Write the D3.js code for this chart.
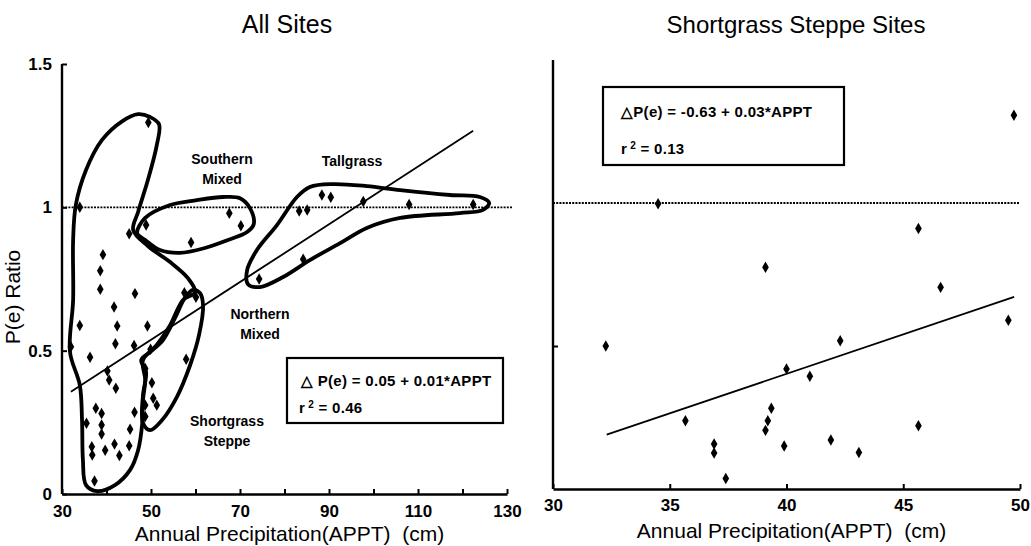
<!DOCTYPE html>
<html lang="en">

<head>
    <meta charset="UTF-8">
    <title>P(e) Ratio vs Annual Precipitation</title>
    <style>
        body { margin: 0; background: #fff; }
        text { font-family: "Liberation Sans", Arial, sans-serif; fill: #000; white-space: pre; }
        .tick text { font-size: 17px; font-weight: bold; }
        .lbl { font-size: 14px; font-weight: bold; }
        .eq { font-size: 15px; font-weight: bold; letter-spacing: 0.3px; }
    </style>
</head>

<body>
    <div id="target"></div>

    <script src="https://d3js.org/d3.v7.min.js"></script>
    <script>
        // All Sites panel (APPT cm, P(e) ratio)
        const allX = [49.4, 67.6, 48.9, 45.1, 59.0, 39.2, 38.6, 38.6, 46.4, 57.5, 60.1, 41.7, 34.0, 42.4, 49.2,
            42.0, 32.0, 46.2, 49.9, 36.3, 57.9, 48.7, 40.2, 40.6, 50.2, 42.1, 50.5, 51.3, 37.6, 48.7,
            38.9, 46.3, 48.7, 35.5, 38.9, 45.3, 38.9, 36.7, 41.8, 45.1, 39.7, 36.8, 42.9, 37.3, 34.0,
            70.2, 88.4, 90.4, 83.3, 85.1, 97.7, 108.0, 122.4, 84.2, 74.3];
        const allY = [1.296, 0.979, 0.938, 0.908, 0.877, 0.835, 0.779, 0.714, 0.699, 0.702, 0.686, 0.652, 0.588, 0.586, 0.586,
            0.524, 0.514, 0.518, 0.505, 0.477, 0.470, 0.438, 0.429, 0.398, 0.388, 0.369, 0.334, 0.310, 0.299, 0.310,
            0.281, 0.285, 0.270, 0.247, 0.241, 0.226, 0.209, 0.165, 0.174, 0.168, 0.153, 0.136, 0.134, 0.045, 1.0,
            0.936, 1.043, 1.035, 0.987, 0.991, 1.02, 1.01, 1.01, 0.819, 0.75];
        const allFitX = [32.0, 122.4];
        const allFitY = [0.357, 1.267];

        // Shortgrass Steppe panel
        const sgsX = [32.26, 39.1, 46.6, 49.5, 42.3, 40.0, 41.0, 39.35, 39.2, 39.1, 35.67, 36.9, 36.9, 37.4,
            39.9, 41.9, 43.1, 45.65, 49.74, 45.65, 34.5];
        const sgsY = [0.50, 0.775, 0.705, 0.59, 0.518, 0.42, 0.394, 0.282, 0.239, 0.205, 0.239, 0.157, 0.126, 0.037,
            0.15, 0.171, 0.128, 0.221, 1.307, 0.911, 0.997];
        const sgsFitX = [32.3, 49.75];
        const sgsFitY = [0.19, 0.672];

        const leftXTicks = [30, 40, 50, 60, 70, 80, 90, 100, 110, 120, 130];
        const leftXLabels = [30, 50, 70, 90, 110, 130];
        const leftYTicks = [0, 0.5, 1, 1.5];
        const rightXTicks = [30, 35, 40, 45, 50];
        const rightYTicks = [0.5];

        // hand-drawn grassland region outlines (APPT, P(e))
        const outlineBig = [[49.8, 1.315], [51.8, 1.29], [51.3, 1.217], [49.3, 1.095], [47.1, 0.984], [46.0, 0.921],
            [49.3, 0.865], [54.3, 0.809], [58.3, 0.753], [59.9, 0.704], [57.2, 0.677], [54.3, 0.589], [51.3, 0.520],
            [48.2, 0.467], [48.7, 0.398], [48.2, 0.328], [48.0, 0.241], [47.1, 0.153], [45.3, 0.084], [41.9, 0.031],
            [37.9, 0.010], [35.4, 0.031], [34.7, 0.119], [34.5, 0.258], [34.0, 0.380], [31.8, 0.495], [32.5, 0.677],
            [32.5, 0.886], [33.1, 1.008], [35.4, 1.130], [39.0, 1.235], [43.5, 1.30], [47.1, 1.325]];
        const outlineNorth = [[48.2, 0.248], [49.8, 0.223], [52.5, 0.258], [55.8, 0.338], [58.8, 0.450], [60.8, 0.555],
            [61.7, 0.659], [61.0, 0.701], [59.4, 0.712], [57.6, 0.684], [55.4, 0.614], [52.7, 0.537], [49.8, 0.495],
            [47.8, 0.467], [48.9, 0.426], [48.2, 0.345]];
        const outlineSouth = [[46.9, 0.910], [48.7, 0.963], [54.3, 1.008], [60.3, 1.025], [66.2, 1.036], [70.0, 1.032],
            [72.2, 0.998], [73.1, 0.942], [71.6, 0.914], [67.3, 0.886], [62.1, 0.858], [56.5, 0.841], [52.0, 0.851],
            [48.7, 0.886]];
        const outlineTall = [[85.7, 1.071], [90.9, 1.081], [98.5, 1.074], [106.0, 1.060], [117.2, 1.043], [123.9, 1.036],
            [126.0, 1.015], [124.6, 0.991], [119.4, 0.980], [106.0, 0.963], [98.5, 0.928], [92.5, 0.875], [85.7, 0.816],
            [79.7, 0.757], [74.5, 0.722], [71.8, 0.732], [71.6, 0.781], [73.8, 0.851], [78.3, 0.938], [82.8, 1.036]];

        const width = 1031;
        const height = 546;

        const svg = d3.select("#target")
            .append("svg")
            .attr("width", width)
            .attr("height", height);

        const diamond = d3.symbol().type(d3.symbolDiamond).size(38);

        function panel(o) {
            const g = svg.append("g");
            const x = d3.scaleLinear().domain(o.xDomain).range(o.xRange);
            const y = d3.scaleLinear().domain([0, 1.5]).range(o.yRange);

            // dotted reference at 1
            g.append("line")
                .attr("x1", x(o.xDomain[0])).attr("x2", o.dotEnd)
                .attr("y1", y(1)).attr("y2", y(1))
                .attr("stroke", "#000").attr("stroke-width", 1.8)
                .attr("stroke-dasharray", "2,1.2");

            const xAxis = g.append("g")
                .attr("transform", `translate(0,${o.yRange[0]})`)
                .call(d3.axisBottom(x).tickValues(o.xTicks).tickSizeInner(-5).tickSizeOuter(0)
                    .tickPadding(o.xPad).tickFormat(d => o.xLabels.includes(d) ? d : ""));
            const yAxis = g.append("g")
                .attr("transform", `translate(${o.xRange[0]},0)`)
                .call(d3.axisLeft(y).tickValues(o.yTicks).tickSizeInner(-5).tickSizeOuter(0)
                    .tickPadding(10).tickFormat(o.yFormat));
            [xAxis, yAxis].forEach(a => {
                a.select(".domain").attr("stroke-width", 2.4);
                a.selectAll(".tick line").attr("stroke-width", 2);
            });
            yAxis.select(".domain").attr("d", `M0,${o.yRange[0]}V${o.yTop}`);

            // regression
            g.append("path")
                .datum(d3.zip(o.fitX, o.fitY))
                .attr("d", d3.line().x(d => x(d[0])).y(d => y(d[1])))
                .attr("fill", "none").attr("stroke", "#000").attr("stroke-width", 1.8);

            (o.outlines || []).forEach(pts => {
                g.append("path")
                    .datum(pts)
                    .attr("d", d3.line().x(d => x(d[0])).y(d => y(d[1])).curve(d3.curveCatmullRomClosed.alpha(0.5)))
                    .attr("fill", "none").attr("stroke", "#000").attr("stroke-width", 3.8)
                    .attr("stroke-linejoin", "round");
            });

            g.selectAll("path.pt")
                .data(d3.zip(o.px, o.py))
                .join("path")
                .attr("class", "pt")
                .attr("d", diamond)
                .attr("transform", d => `translate(${x(d[0])},${y(d[1])})`)
                .attr("fill", "#000");

            g.append("text")
                .attr("x", o.titleX).attr("y", 33)
                .attr("text-anchor", "middle")
                .style("font-size", o.titleSize)
                .text(o.title);

            g.append("text")
                .attr("x", (o.xRange[0] + o.xRange[1]) / 2 + o.xTitleShift).attr("y", o.xTitleY)
                .attr("text-anchor", "middle")
                .style("font-size", "21px")
                .text("Annual Precipitation(APPT)  (cm)");

            // equation box
            const b = o.box;
            g.append("rect")
                .attr("x", b.x).attr("y", b.y).attr("width", b.w).attr("height", b.h)
                .attr("fill", "#fff").attr("stroke", "#000").attr("stroke-width", 2.2);
            g.append("text").attr("class", "eq")
                .attr("x", b.x + b.pad).attr("y", b.y + b.l1)
                .text(b.eq);
            const r2 = g.append("text").attr("class", "eq")
                .attr("x", b.x + b.pad2).attr("y", b.y + b.l2);
            r2.append("tspan").text("r");
            r2.append("tspan").attr("dy", -5).style("font-size", "10px").text(" 2");
            r2.append("tspan").attr("dy", 5).text(" = " + b.r2);

            return g;
        }

        const left = panel({
            xDomain: [30, 130], xRange: [62, 507], yRange: [494, 64], yTop: 64,
            xTicks: leftXTicks, xLabels: leftXLabels, xPad: 11,
            yTicks: leftYTicks, yFormat: d => d === 0 ? "0" : d3.format("~g")(d),
            dotEnd: 512,
            fitX: allFitX, fitY: allFitY, px: allX, py: allY,
            outlines: [outlineBig, outlineNorth, outlineSouth, outlineTall],
            title: "All Sites", titleX: 287, titleSize: "25px",
            xTitleShift: 5, xTitleY: 541,
            box: { x: 287, y: 358, w: 216, h: 65, pad: 14, pad2: 12, l1: 28, l2: 55,
                eq: "\u25B3 P(e) = 0.05 + 0.01*APPT", r2: "0.46" }
        });

        panel({
            xDomain: [30, 50], xRange: [553, 1020], yRange: [489, 60], yTop: 60,
            xTicks: rightXTicks, xLabels: rightXTicks, xPad: 10,
            yTicks: rightYTicks, yFormat: () => "",
            dotEnd: 1020,
            fitX: sgsFitX, fitY: sgsFitY, px: sgsX, py: sgsY,
            outlines: [],
            title: "Shortgrass Steppe Sites", titleX: 796, titleSize: "24px",
            xTitleShift: 5, xTitleY: 538,
            box: { x: 603, y: 87, w: 241, h: 78, pad: 18, pad2: 18, l1: 30, l2: 67,
                eq: "\u25B3P(e) = -0.63 + 0.03*APPT", r2: "0.13" }
        });

        // y axis title
        svg.append("text")
            .attr("transform", "translate(20,297) rotate(-90)")
            .attr("text-anchor", "middle")
            .style("font-size", "21px")
            .text("P(e) Ratio");

        // region labels on the All Sites panel
        const regions = [
            { t: ["Southern", "Mixed"], x: 222, y: 160 },
            { t: ["Tallgrass"], x: 352, y: 162 },
            { t: ["Northern", "Mixed"], x: 260, y: 315 },
            { t: ["Shortgrass", "Steppe"], x: 227, y: 422 }
        ];
        regions.forEach(r => {
            r.t.forEach((s, i) => {
                left.append("text").attr("class", "lbl")
                    .attr("x", r.x).attr("y", r.y + i * 20)
                    .attr("text-anchor", "middle")
                    .attr("dominant-baseline", "middle")
                    .text(s);
            });
        });
    </script>
</body>

</html>
